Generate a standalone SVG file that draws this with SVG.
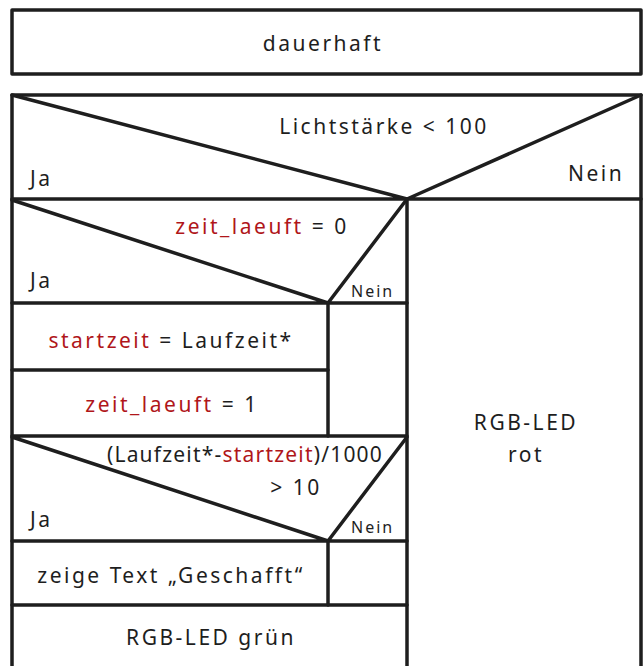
<svg xmlns="http://www.w3.org/2000/svg" width="643" height="666" viewBox="0 0 643 666">
<style>
.ln{stroke:#1e1e1e;stroke-width:3.5;fill:none;stroke-linecap:round;stroke-linejoin:round}
.bx{stroke:#1e1e1e;stroke-width:3.5;fill:#fff;stroke-linejoin:round}
text{font-family:"Noto Sans","DejaVu Sans",sans-serif;font-size:21px;letter-spacing:2.5px;fill:#1e1e1e}
.c{text-anchor:middle}
.s{font-size:16px;letter-spacing:2px}
.f{letter-spacing:1.2px}
.r{fill:#b0161a}
</style>
<rect width="643" height="666" fill="#fff"/>
<g id="dauerhaft">
<rect class="bx" x="12" y="10" width="629" height="64"/>
<text class="c" x="323" y="51">dauerhaft</text>
</g>
<g id="cond-licht">
<rect class="bx" x="12" y="95" width="629" height="580"/>
<path class="ln" d="M12 95 L407 199 L641 95 M12 199 L641 199"/>
<text class="c" x="384" y="134">Lichtstärke &lt; 100</text>
<text x="30" y="186">Ja</text>
<text x="568" y="181">Nein</text>
</g>
<g id="rgb-rot">
<path class="ln" d="M407 199 L407 670"/>
<text class="c" x="526" y="430">RGB-LED</text>
<text class="c" x="526" y="462">rot</text>
</g>
<g id="cond-zeit">
<path class="ln" d="M12 200 L328 303 M407 199 L328 303 M12 303 L407 303"/>
<text class="c" x="262" y="234"><tspan class="r">zeit_laeuft</tspan> = 0</text>
<text x="30" y="288">Ja</text>
<text class="s" x="351" y="297">Nein</text>
<path class="ln" d="M328 303 L328 436"/>
</g>
<g id="startzeit">
<path class="ln" d="M12 370 L328 370"/>
<text class="c" x="171" y="348"><tspan class="r">startzeit</tspan> = Laufzeit*</text>
</g>
<g id="zeit-laeuft-1">
<text class="c" x="172" y="412"><tspan class="r">zeit_laeuft</tspan> = 1</text>
</g>
<g id="cond-dauer">
<path class="ln" d="M12 436 L407 436 M12 437 L328 541 M407 437 L328 541 M12 541 L407 541"/>
<text class="c f" x="245" y="462">(Laufzeit*-<tspan class="r">startzeit</tspan>)/1000</text>
<text class="c" x="296" y="495">&gt; 10</text>
<text x="30" y="527">Ja</text>
<text class="s" x="351" y="533">Nein</text>
<path class="ln" d="M328 541 L328 605"/>
</g>
<g id="zeige-text">
<path class="ln" d="M12 605 L407 605"/>
<text class="c" x="171" y="583">zeige Text „Geschafft“</text>
</g>
<g id="rgb-gruen">
<text class="c" x="211" y="645">RGB-LED grün</text>
</g>
<g id="connectors"></g>
</svg>
